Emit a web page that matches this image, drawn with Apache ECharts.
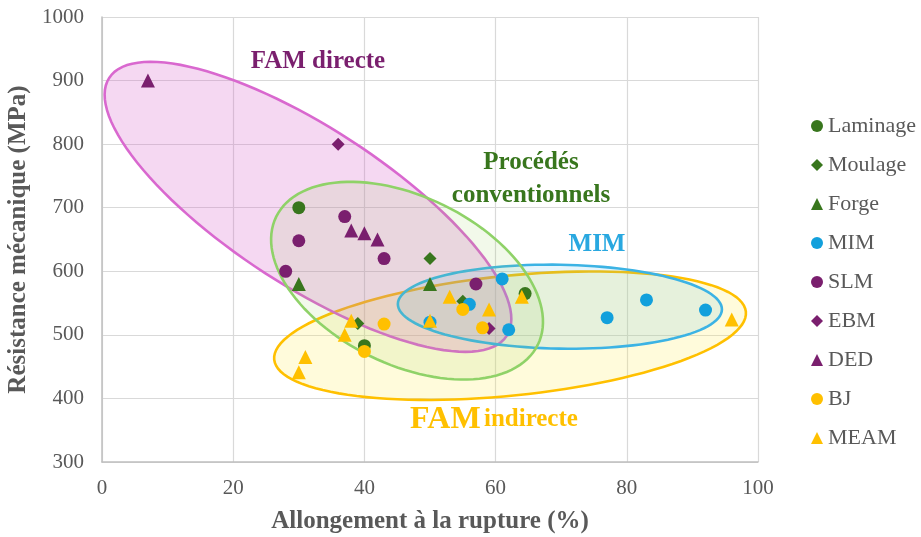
<!DOCTYPE html>
<html>
<head>
<meta charset="utf-8">
<script src="https://cdn.jsdelivr.net/npm/echarts@6/dist/echarts.min.js"></script>
<style>
  html, body { margin: 0; padding: 0; background: #ffffff; }
  #chart { width: 921px; height: 537px; }
</style>
</head>
<body>
<div id="chart"></div>
<script>
// ---- Data (allongement %, résistance MPa) ----
const laminage = [[30, 700], [64.5, 565], [40, 483]];
const moulage  = [[50, 620], [55, 553], [39, 518]];
const forge    = [[30, 580], [50, 580]];
const mim      = [[61, 588], [56, 548], [50, 520], [62, 508], [77, 527], [83, 555], [92, 539]];
const slm      = [[37, 686], [30, 648], [43, 620], [28, 600], [57, 580]];
const ebm      = [[36, 800], [59, 510]];
const ded      = [[7, 900], [38, 664], [40, 660], [42, 650]];
const bj       = [[43, 517], [55, 540], [58, 511], [40, 474]];
const meam     = [[64, 560], [53, 560], [59, 540], [38, 522], [50, 522], [37, 500], [31, 465], [30, 441], [96, 524]];

const xTicks = [0, 20, 40, 60, 80, 100];
const yTicks = [300, 400, 500, 600, 700, 800, 900, 1000];

// Region ellipses in data units: centre, and two conjugate half-axis vectors
const regionIndirecte = { c: [62.2, 498.7], u: [35.95, 37.65], v: [0.925, -93.8] };
const regionDirecte   = { c: [31.4, 701.4], u: [30.3, -202.9], v: [-6.55, -104.2] };
const regionMIM       = { c: [69.8, 544.3], u: [24.7, -4.4],   v: [-0.1, -66.0] };
const regionConv      = { c: [46.5, 585.2], u: [19.94, -100.7], v: [-5.64, -118.5] };

const FONT = "'Liberation Serif', 'Times New Roman', serif";
const GREEN = '#38761d', PURPLE = '#7a1f6e', BLUE = '#12a0dc', YELLOW = '#ffc000';

function ellipseSeries(region, stroke, fill, z) {
  return {
    type: 'custom',
    z: z,
    silent: true,
    data: [region.c],
    encode: { x: 0, y: 1 },
    renderItem: function (params, api) {
      const pts = [];
      const n = 120;
      for (let i = 0; i < n; i++) {
        const t = (i / n) * Math.PI * 2;
        const ct = Math.cos(t), st = Math.sin(t);
        pts.push(api.coord([
          region.c[0] + region.u[0] * ct + region.v[0] * st,
          region.c[1] + region.u[1] * ct + region.v[1] * st
        ]));
      }
      return {
        type: 'polygon',
        shape: { points: pts },
        style: { fill: fill, stroke: stroke, lineWidth: 2.6 }
      };
    }
  };
}

function scatter(name, data, symbol, color, size) {
  return {
    name: name, type: 'scatter', data: data, symbol: symbol,
    symbolSize: size, z: 10,
    itemStyle: { color: color, opacity: 1 }
  };
}

const chart = echarts.init(document.getElementById('chart'), null, { renderer: 'canvas' });
chart.setOption({
  animation: false,
  backgroundColor: '#ffffff',
  grid: { left: 102, right: 163, top: 17, bottom: 75, containLabel: false, outerBoundsMode: 'none' },
  xAxis: {
    type: 'value', min: xTicks[0], max: xTicks[xTicks.length - 1], interval: 20,
    name: 'Allongement à la rupture (%)', nameLocation: 'middle', nameGap: 47,
    nameTextStyle: { fontFamily: FONT, fontWeight: 'bold', fontSize: 25, color: '#595959' },
    axisLine: { show: true, lineStyle: { color: '#bfbfbf', width: 1.5 } },
    axisTick: { show: false },
    axisLabel: { fontFamily: FONT, fontSize: 21, color: '#595959', margin: 16, formatter: function (v) { return String(v); } },
    splitLine: { show: true, lineStyle: { color: '#d9d9d9', width: 1.2 } }
  },
  yAxis: {
    type: 'value', min: yTicks[0], max: yTicks[yTicks.length - 1], interval: 100,
    name: 'Résistance mécanique (MPa)', nameLocation: 'middle', nameGap: 64,
    nameTextStyle: { fontFamily: FONT, fontWeight: 'bold', fontSize: 25, color: '#595959' },
    axisLine: { show: true, lineStyle: { color: '#bfbfbf', width: 1.5 } },
    axisTick: { show: false },
    axisLabel: { fontFamily: FONT, fontSize: 21, color: '#595959', margin: 18, formatter: function (v) { return String(v); } },
    splitLine: { show: true, lineStyle: { color: '#d9d9d9', width: 1.2 } }
  },
  legend: {
    orient: 'vertical', left: 806, top: 110, itemGap: 17,
    itemWidth: 12, itemHeight: 12,
    textStyle: { fontFamily: FONT, fontSize: 22, color: '#595959' },
    data: ['Laminage', 'Moulage', 'Forge', 'MIM', 'SLM', 'EBM', 'DED', 'BJ', 'MEAM']
  },
  graphic: [
    { type: 'text', z: 20, x: 318, y: 62, style: { text: 'FAM directe', fill: PURPLE, font: "bold 25px " + FONT, align: 'center', verticalAlign: 'middle' } },
    { type: 'text', z: 20, x: 531, y: 179, style: { text: 'Procédés\nconventionnels', fill: GREEN, font: "bold 25px " + FONT, lineHeight: 33, align: 'center', verticalAlign: 'middle' } },
    { type: 'text', z: 20, x: 597, y: 245, style: { text: 'MIM', fill: '#29a8e0', font: "bold 25px " + FONT, align: 'center', verticalAlign: 'middle' } },
    { type: 'text', z: 20, x: 494, y: 420, style: {
        text: '{a|FAM} {b|indirecte}', align: 'center', verticalAlign: 'middle',
        rich: {
          a: { fontFamily: FONT, fontWeight: 'bold', fontSize: 32, fill: YELLOW, color: YELLOW },
          b: { fontFamily: FONT, fontWeight: 'bold', fontSize: 25, fill: YELLOW, color: YELLOW }
        } } }
  ],
  series: [
    ellipseSeries(regionIndirecte, '#ffc000', 'rgba(255,238,90,0.22)', 1),
    ellipseSeries(regionDirecte, '#d968cf', 'rgba(214,90,200,0.24)', 2),
    ellipseSeries(regionMIM, '#3cb3e4', 'rgba(60,180,230,0.13)', 3),
    ellipseSeries(regionConv, '#8fd268', 'rgba(146,208,80,0.12)', 4),
    scatter('Laminage', laminage, 'circle', GREEN, 13),
    scatter('Moulage', moulage, 'diamond', GREEN, 13),
    scatter('Forge', forge, 'triangle', GREEN, 14),
    scatter('MIM', mim, 'circle', BLUE, 13),
    scatter('SLM', slm, 'circle', PURPLE, 13),
    scatter('EBM', ebm, 'diamond', PURPLE, 13),
    scatter('DED', ded, 'triangle', PURPLE, 14),
    scatter('BJ', bj, 'circle', YELLOW, 13),
    scatter('MEAM', meam, 'triangle', YELLOW, 14)
  ]
});
</script>
</body>
</html>
